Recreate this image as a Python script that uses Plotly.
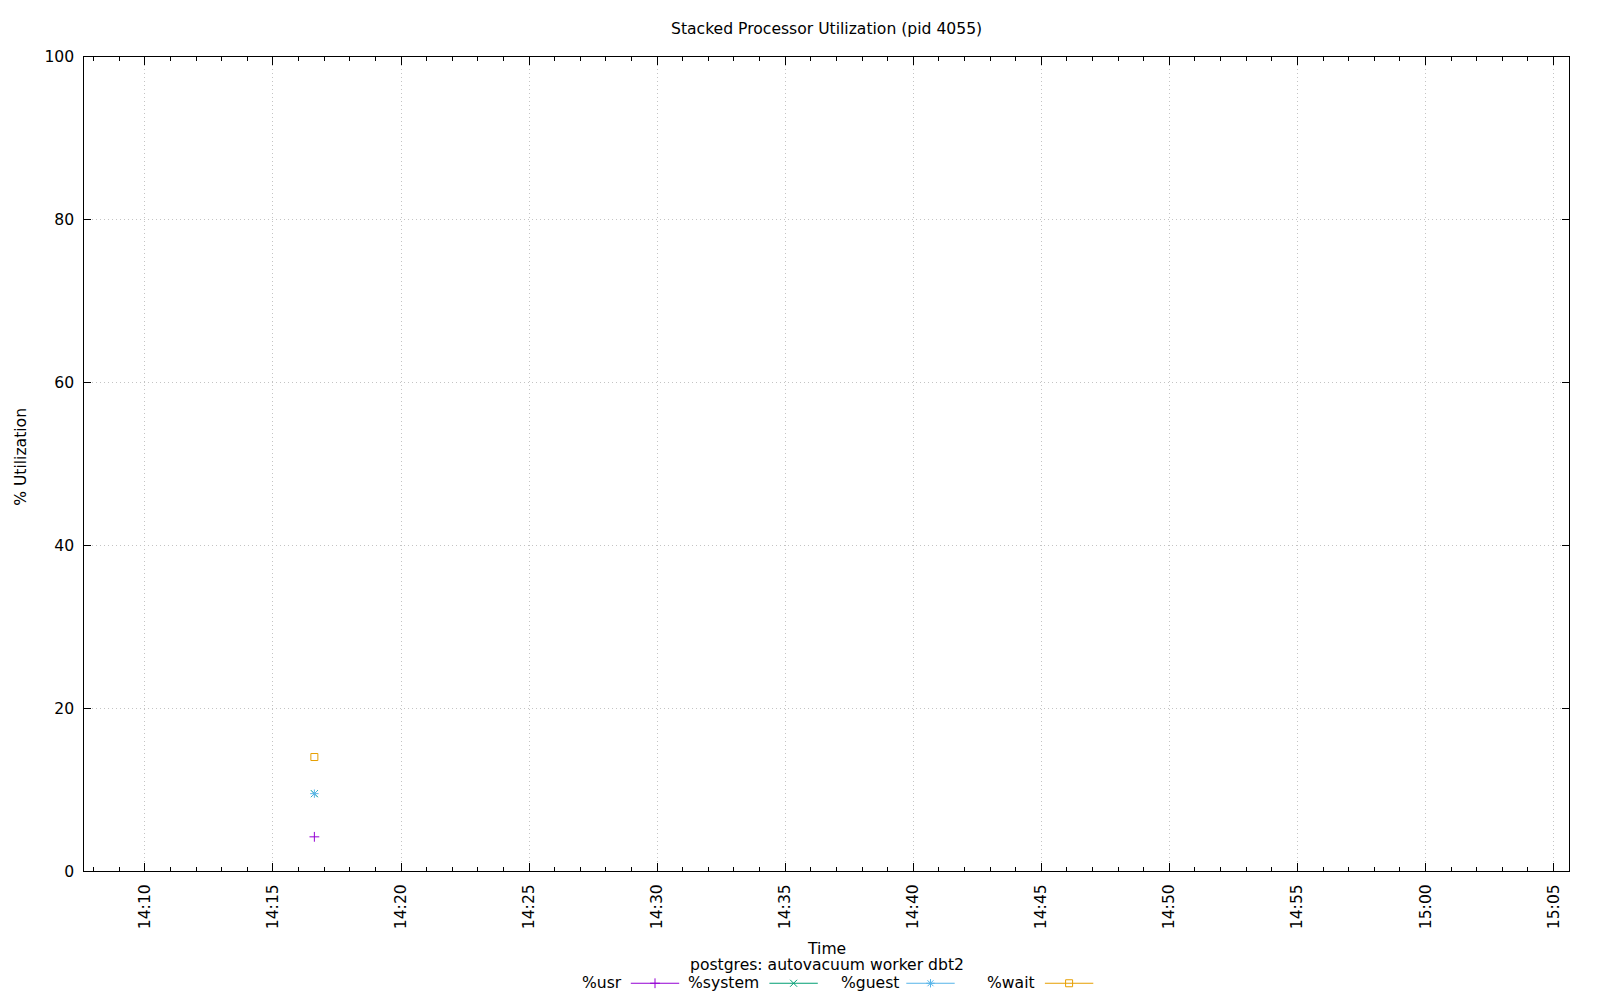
import numpy as np
import plotly.graph_objects as go

# ---- data ----
series_names = ["%usr", "%system", "%guest", "%wait"]
series_colors = ["#9400d3", "#009e73", "#56b4e9", "#e69f00"]
series_symbols = ["cross-thin", "x-thin", "asterisk", "square-open"]
times = ["2024-01-01 14:16:37"]
usr = [4.2]
system = [5.3]
guest = [0.0]
wait = [4.5]
x_range = ["2024-01-01 14:07:38", "2024-01-01 15:05:37"]
y_ticks = [0, 20, 40, 60, 80, 100]

W, H = 1600, 1000
FONT = "DejaVu Sans"
FS = 15.6

# vertical calibration of the rendering (observed: screen_y = OFF + SC * page_y)
OFF, SC = 8.26, 0.9828


def fy(y_px):
    """paper fraction that lands on screen pixel row y_px"""
    return 1 - (y_px - OFF) / (SC * H)


def py(y_px):
    """overlay-axis (pixel) coordinate that lands on screen pixel row y_px"""
    return (y_px - OFF) / SC


# plot area in screen pixels
L, R, T, B = 84.3, 1569.3, 56.0, 871.0

fig = go.Figure()

vals = np.array([usr, system, guest, wait], dtype=float)
cum = np.cumsum(vals, axis=0)
for i, name in enumerate(series_names):
    fig.add_trace(go.Scatter(
        x=times, y=cum[i], mode="lines+markers", name=name,
        line=dict(color=series_colors[i], width=1),
        marker=dict(symbol=series_symbols[i], size=7, color=series_colors[i],
                    line=dict(color=series_colors[i], width=1)),
        showlegend=False, xaxis="x", yaxis="y",
    ))

# ---- manual gnuplot-style legend (on pixel overlay axes) ----
leg_y = 983.3
text_right = [620.7, 757.6, 897.2, 1033.7]
line_start = [630.8, 769.4, 906.3, 1044.9]
line_len = 48.4
TEXT_PAD = 3.6
annotations = []
for i, name in enumerate(series_names):
    x0 = line_start[i]
    x1 = x0 + line_len
    fig.add_trace(go.Scatter(
        x=[x0, x1], y=[py(leg_y), py(leg_y)], mode="lines",
        line=dict(color=series_colors[i], width=1),
        showlegend=False, xaxis="x2", yaxis="y2", hoverinfo="skip"))
    fig.add_trace(go.Scatter(
        x=[(x0 + x1) / 2], y=[py(leg_y)], mode="markers",
        marker=dict(symbol=series_symbols[i], size=7, color=series_colors[i],
                    line=dict(color=series_colors[i], width=1)),
        showlegend=False, xaxis="x2", yaxis="y2", hoverinfo="skip"))
    annotations.append(dict(
        x=(text_right[i] + TEXT_PAD) / W, y=fy(leg_y), xref="paper", yref="paper",
        text=name, showarrow=False, xanchor="right", yanchor="middle",
        font=dict(family=FONT, size=FS, color="black")))

cx = (L + R) / 2
annotations += [
    dict(x=cx / W, y=fy(28.6), xref="paper", yref="paper",
         text="Stacked Processor Utilization (pid 4055)", showarrow=False,
         xanchor="center", yanchor="middle",
         font=dict(family=FONT, size=FS, color="black")),
    dict(x=826.0 / W, y=fy(949.5), xref="paper", yref="paper",
         text="Time", showarrow=False, xanchor="center", yanchor="middle",
         font=dict(family=FONT, size=FS, color="black")),
    dict(x=826.8 / W, y=fy(965.4), xref="paper", yref="paper",
         text="postgres: autovacuum worker dbt2", showarrow=False,
         xanchor="center", yanchor="middle",
         font=dict(family=FONT, size=FS, color="black")),
    dict(x=21.5 / W, y=fy(457), xref="paper", yref="paper",
         text="% Utilization", showarrow=False, textangle=-90,
         xanchor="center", yanchor="middle",
         font=dict(family=FONT, size=FS, color="black")),
]

grid_color = "#c4c4c4"
fig.update_layout(
    width=W, height=H, autosize=False,
    margin=dict(l=0, r=0, t=0, b=0, pad=0),
    paper_bgcolor="white", plot_bgcolor="rgba(0,0,0,0)",
    font=dict(family=FONT, size=FS, color="black"),
    showlegend=False,
    annotations=annotations,
    xaxis=dict(
        type="date", range=x_range, domain=[L / W, R / W], anchor="y",
        tickmode="linear", tick0="2024-01-01 14:10:00", dtick=300000,
        tickformat="%H:%M", tickangle=-90, ticklabelstandoff=6,
        ticks="inside", ticklen=8, tickcolor="black", tickwidth=1,
        minor=dict(tick0="2024-01-01 14:08:00", dtick=60000, ticks="inside",
                   ticklen=4, tickcolor="black", showgrid=False),
        showgrid=True, gridcolor=grid_color, griddash="1px,3px", gridwidth=1,
        showline=True, linecolor="black", linewidth=1, mirror="allticks",
        zeroline=False, tickfont=dict(family=FONT, size=FS, color="black"),
        fixedrange=True,
    ),
    yaxis=dict(
        range=[0, 100], domain=[fy(B), fy(T)], anchor="x",
        tickmode="array", tickvals=y_ticks, ticktext=[str(v) for v in y_ticks],
        ticklabelstandoff=6,
        ticks="inside", ticklen=7, tickcolor="black", tickwidth=1,
        showgrid=True, gridcolor=grid_color, griddash="1px,3px", gridwidth=1,
        showline=True, linecolor="black", linewidth=1, mirror="allticks",
        zeroline=False, tickfont=dict(family=FONT, size=FS, color="black"),
        fixedrange=True,
    ),
    xaxis2=dict(range=[0, W], domain=[0, 1], anchor="y2", visible=False,
                showgrid=False, zeroline=False, fixedrange=True),
    yaxis2=dict(range=[H, 0], domain=[0, 1], anchor="x2", visible=False,
                showgrid=False, zeroline=False, fixedrange=True),
)

post = (
    "document.documentElement.style.margin='0';"
    "document.documentElement.style.padding='0';"
    "document.documentElement.style.overflow='hidden';"
    "document.body.style.margin='0';"
    "document.body.style.padding='0';"
    "document.body.style.overflow='hidden';"
    "var g=document.querySelector('.plotly-graph-div');"
    "if(g){g.style.position='fixed';g.style.top='0px';g.style.left='0px';}"
)
fig.write_html("out.html", config={"displayModeBar": False, "responsive": False},
               post_script=post)
